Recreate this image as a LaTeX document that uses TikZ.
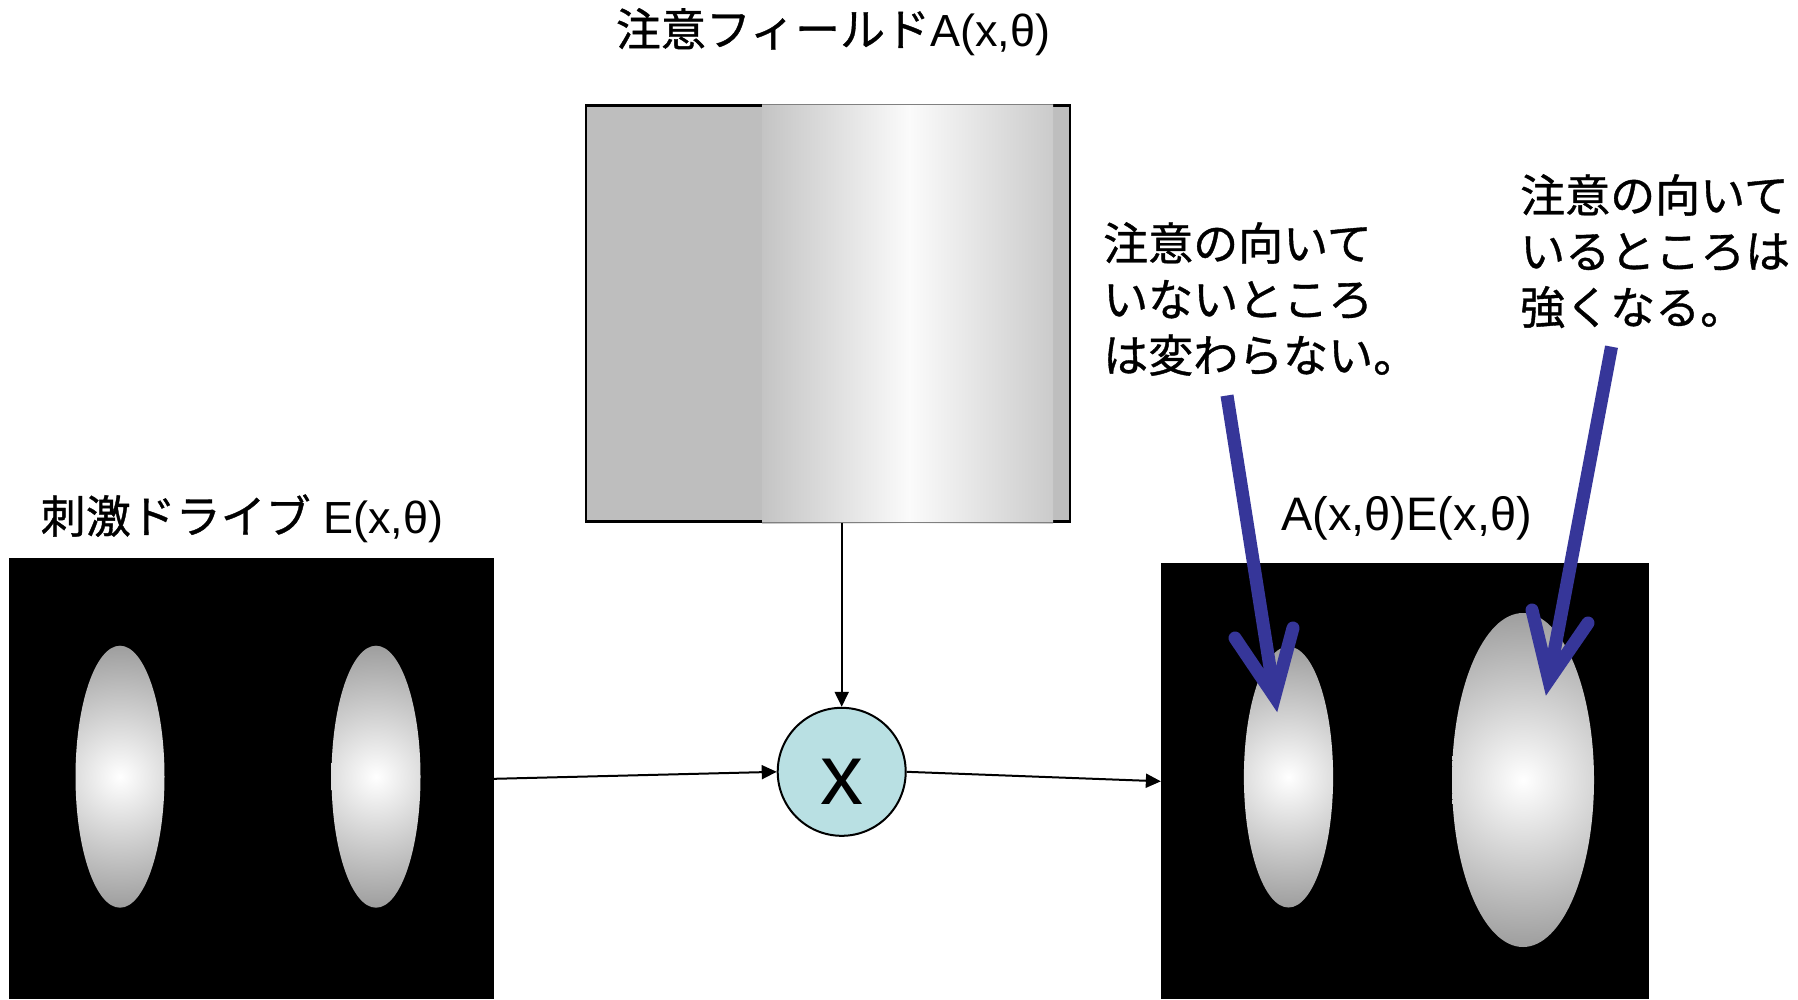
\documentclass[tikz,border=0pt]{standalone}
\usepackage{fontspec}
\setmainfont{Liberation Sans}
\newfontfamily\jp[FakeBold=0.8]{Noto Sans CJK JP}
\usetikzlibrary{arrows.meta,calc}

\definecolor{attgray}{RGB}{190,190,190}
\definecolor{gradlo}{RGB}{196,196,196}
\definecolor{gradhi}{RGB}{251,251,251}
\definecolor{gradend}{RGB}{203,203,203}
\definecolor{multfill}{RGB}{185,224,227}
\definecolor{pointer}{RGB}{54,54,153}
\definecolor{blobedge}{RGB}{158,158,158}

\begin{document}
\begin{tikzpicture}[x=1pt,y=-1pt,
  panel/.style={fill=black, inner sep=0pt},
  flow/.style={draw=black, line width=2pt, -{Triangle[length=15pt,width=14pt]}},
  pointer shaft/.style={draw=pointer, line width=13pt, line cap=butt},
  pointer head/.style={draw=pointer, line width=13pt, line cap=round, line join=miter},
  jptext/.style={font=\jp\fontsize{45}{56}\selectfont, align=left, inner sep=0pt},
  caption/.style={font=\fontsize{45}{56}\selectfont, inner sep=0pt, anchor=base},
]
\useasboundingbox (0,0) rectangle (1798,999);
\fill[white] (0,0) rectangle (1798,999);

% attention field: grey panel with a bright vertical band
\node[draw=black, line width=2.5pt, fill=attgray, minimum width=484pt,
      minimum height=416pt, inner sep=0pt] (att) at (828,313.6) {};
\fill[left color=gradlo, right color=gradhi] (762,104.3) rectangle (909.8,523);
\fill[left color=gradhi, right color=gradend] (909.5,104.3) rectangle (1053,523);
\draw[gray, line width=1.2pt] (762,104.6) -- (1053,104.6);
\draw[gray, line width=1.2pt] (762,522.6) -- (1053,522.6);
\node[caption] (atttitle) at (833,46) {{\jp 注意フィールド}A(x,θ)};

% stimulus drive and result panels
\node[panel, minimum width=485pt, minimum height=441pt] (stim) at (251.5,778.8) {};
\node[panel, minimum width=487.5pt, minimum height=436pt] (out) at (1404.8,781.3) {};
\node[caption] (stimtitle) at (242,533) {{\jp 刺激ドライブ} E(x,θ)};
\node[caption, font=\fontsize{47}{56}\selectfont] (outtitle) at (1406.5,530) {A(x,θ)E(x,θ)};

% bright blobs with a round fall-off
\foreach \cx/\cy/\rx/\ry in {120/776.7/44.5/131, 376/776.7/44.5/131,
                             1288.5/777/44.6/130.5, 1523/780/71/167} {
  \begin{scope}
    \clip (\cx,\cy) ellipse [x radius=\rx, y radius=\ry];
    \shade[inner color=white, outer color=blobedge] (\cx,\cy) circle [radius=\ry];
  \end{scope}
}

% multiplier
\node[circle, draw=black, line width=2pt, fill=multfill, minimum size=128pt,
      inner sep=0pt] (mul) at (841.7,771.8) {};
\node[font=\fontsize{86}{90}\selectfont, anchor=base, inner sep=0pt] (multsign)
      at ($(mul.center)+(0,33)$) {x};

\draw[flow] (att.south -| mul.north) -- (mul.north);
\draw[flow] (stim.east) -- (mul.west);
\draw[flow] (mul.east) -- (out.west);

% annotations
\node[jptext, anchor=north west] (note1) at (1103,222) {注意の向いて\\いないところ\\は変わらない。};
\node[jptext, anchor=north west] (note2) at (1520,174) {注意の向いて\\いるところは\\強くなる。};

\coordinate (p1s) at (1227,395.5);
\coordinate (p1t) at (1274.6,696.7);
\coordinate (p1l) at (1235,638);
\coordinate (p1r) at (1293,628);
\coordinate (p2s) at (1611.5,346.7);
\coordinate (p2t) at (1548.8,680);
\coordinate (p2l) at (1532,610);
\coordinate (p2r) at (1588,623);

\draw[pointer shaft] (p1s) -- (p1t);
\draw[pointer head] (p1l) -- (p1t) -- (p1r);
\draw[pointer shaft] (p2s) -- (p2t);
\draw[pointer head] (p2l) -- (p2t) -- (p2r);
\end{tikzpicture}
\end{document}
